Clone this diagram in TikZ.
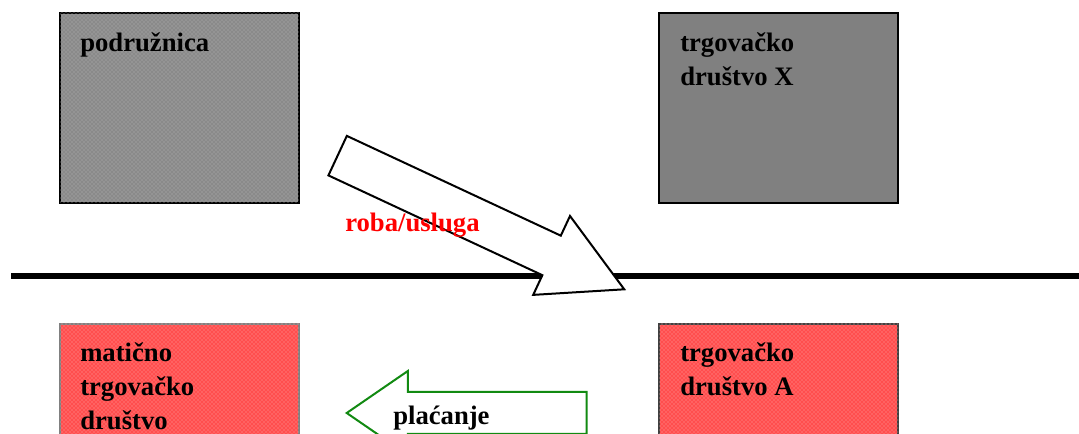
\documentclass[tikz,border=0pt]{standalone}
\usepackage{fontspec}
\setmainfont{Liberation Serif}
\usepackage{tikz}
\usetikzlibrary{patterns}
\usetikzlibrary{positioning}
\usetikzlibrary{shapes.arrows}
\definecolor{branchGray}{HTML}{8A8A8A}
\definecolor{branchDots}{HTML}{B8B8B8}
\definecolor{firmGray}{HTML}{808080}
\definecolor{firmRed}{HTML}{FF4E4E}
\definecolor{firmDots}{HTML}{FFA8A8}
\definecolor{payGreen}{HTML}{128A12}

\begin{document}
\begin{tikzpicture}[x=0.75pt,y=-0.75pt]
\tikzset{FirmBox/.style={
  rectangle,
  draw,
  line width=1.5pt,
  anchor=north west,
  inner sep=0pt,
  minimum width=179.25pt,
  minimum height=142.5pt,
}}
\tikzset{BranchBox/.style={FirmBox,
  fill=branchGray,
  postaction={pattern=crosshatch dots, pattern color=branchDots},
}}
\tikzset{ForeignBox/.style={FirmBox,
  fill=firmGray,
}}
\tikzset{HomeBox/.style={FirmBox,
  fill=firmRed,
  postaction={pattern=crosshatch dots, pattern color=firmDots},
}}
\tikzset{BoxText/.style={
  anchor=base west,
  align=left,
  inner sep=0pt,
  font=\fontsize{20}{25.5}\selectfont\bfseries
}}
\tikzset{BlockArrow/.style={
  single arrow,
  line width=1.5pt,
  inner xsep=0pt,
  single arrow head indent=0pt,
}}

\useasboundingbox (0,0) rectangle (1079,434);
\clip (0,0) rectangle (1079,434);

% the four companies
\node[BranchBox] (branch) at (59,12) {};
\node[ForeignBox] (firmX) at (658,12) {};
\node[HomeBox, draw=firmGray] (parent) at (59,323) {};
\node[HomeBox, draw=black!75] (firmA) at (658,323) {};

% border between the two countries
\coordinate (borderL) at (11,276);
\coordinate (borderR) at (1079,276);
\draw[line width=4.5pt] (borderL) -- (borderR);

% flows
\node[BlockArrow, draw, fill=white, rotate=-25, inner ysep=15.6pt,
  minimum height=237.2pt,
  single arrow head extend=16.3pt, single arrow tip angle=57] (goods) at (462.75,214) {};
\node[BlockArrow, draw=payGreen, fill=white, shape border rotate=180, inner ysep=15pt,
  minimum height=180pt,
  single arrow head extend=15.75pt, single arrow tip angle=69] (pay) at (482,413) {};

% last line of each text sits on the given point
\node[BoxText] (branchtxt) at ([shift={(21,40)}]branch.north west) {podružnica};
\node[BoxText] (firmXtxt) at ([shift={(22,74)}]firmX.north west) {trgovačko\\društvo X};
\node[BoxText] (parenttxt) at ([shift={(21,107)}]parent.north west) {matično\\trgovačko\\društvo};
\node[BoxText] (firmAtxt) at ([shift={(22,73)}]firmA.north west) {trgovačko\\društvo A};
\node[BoxText, text=red] (goodstxt) at (345,231.5) {roba/usluga};
\node[BoxText] (paytxt) at (393,425) {plaćanje};
\end{tikzpicture}
\end{document}
